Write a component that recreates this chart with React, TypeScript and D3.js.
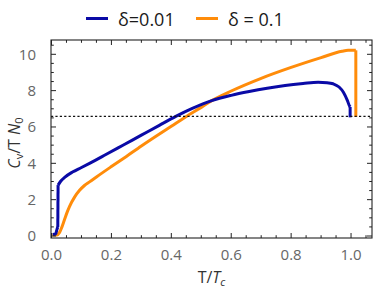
import React from "react";
import * as d3 from "d3";

const blueT = [0.004, 0.014, 0.018, 0.021, 0.022, 0.03, 0.045, 0.07, 0.1, 0.127, 0.18, 0.24, 0.3, 0.36, 0.415, 0.47, 0.535, 0.6, 0.66, 0.72, 0.78, 0.84, 0.89, 0.92, 0.94, 0.96, 0.975, 0.988, 0.995, 0.997, 0.997];
const blueY = [0.08, 0.12, 0.35, 0.5, 2.8, 3.0, 3.24, 3.52, 3.77, 4.0, 4.47, 5.01, 5.55, 6.09, 6.58, 7.02, 7.45, 7.74, 7.95, 8.13, 8.28, 8.39, 8.46, 8.44, 8.38, 8.2, 7.9, 7.45, 7.15, 7.1, 6.53];

const orangeT = [0.003, 0.018, 0.027, 0.035, 0.043, 0.052, 0.06, 0.077, 0.093, 0.11, 0.127, 0.15, 0.2, 0.25, 0.3, 0.35, 0.4, 0.45, 0.5, 0.535, 0.6, 0.7, 0.8, 0.9, 0.97, 0.99, 1.016, 1.016];
const orangeY = [0.05, 0.06, 0.2, 0.5, 0.88, 1.3, 1.62, 2.14, 2.5, 2.78, 2.98, 3.25, 3.82, 4.38, 4.95, 5.5, 6.04, 6.58, 7.08, 7.45, 7.98, 8.68, 9.28, 9.82, 10.17, 10.22, 10.22, 6.55];

const refLine = 6.58;
const xTicks = [0, 0.2, 0.4, 0.6, 0.8, 1.0];
const yTicks = [0, 2, 4, 6, 8, 10];
const seriesNames = ["δ=0.01", "δ = 0.1"];
const colors = ["#0a0aa6", "#ff8c0a"];

const W = 374, H = 291;
const left = 51, right = 372, top = 40, bottom = 238;

export default function App() {
  const x = d3.scaleLinear().domain([0, 1.07]).range([left + 0.5, right]);
  const y = d3.scaleLinear().domain([0, 10]).range([236, 54.3]);
  const line = d3
    .line<[number, number]>()
    .x((d) => x(d[0]))
    .y((d) => y(d[1]))
    .curve(d3.curveMonotoneX);
  const lineLin = d3
    .line<[number, number]>()
    .x((d) => x(d[0]))
    .y((d) => y(d[1]));
  const bluePts: [number, number][] = blueT.map((t, i) => [t, blueY[i]]);
  const orPts: [number, number][] = orangeT.map((t, i) => [t, orangeY[i]]);

  const xMinor = d3.range(0, 1.0701, 0.05);
  const yMinor = d3.range(0, 10.78, 0.5);
  const font = "'Open Sans', 'Noto Sans', sans-serif";

  const blueA = bluePts.slice(0, 4);
  const blueB = bluePts.slice(4, bluePts.length - 1);
  const blueEnd = bluePts.slice(bluePts.length - 2);
  const blueJump = bluePts.slice(3, 5);
  const orA = orPts.slice(0, orPts.length - 1);
  const orEnd = orPts.slice(orPts.length - 2);

  return (
    <svg width={W} height={H} style={{ position: "absolute", left: 0, top: 0 }} fontFamily={font}>
      <rect x={0} y={0} width={W} height={H} fill="#fff" />
      {/* legend */}
      <line x1={86} x2={108} y1={18.5} y2={18.5} stroke={colors[0]} strokeWidth={3} />
      <text x={118} y={26} fontSize={18} fill="#1a1a1a">{seriesNames[0]}</text>
      <line x1={196} x2={218} y1={18.5} y2={18.5} stroke={colors[1]} strokeWidth={3} />
      <text x={228} y={26} fontSize={18} fill="#1a1a1a">{seriesNames[1]}</text>

      {/* curves */}
      <g fill="none" strokeWidth={3} strokeLinejoin="round">
        <path d={line(orA) || ""} stroke={colors[1]} />
        <path d={lineLin(orEnd) || ""} stroke={colors[1]} />
        <path d={line(blueA) || ""} stroke={colors[0]} />
        <path d={lineLin(blueJump) || ""} stroke={colors[0]} />
        <path d={line(blueB) || ""} stroke={colors[0]} />
        <path d={lineLin(blueEnd) || ""} stroke={colors[0]} />
      </g>

      {/* reference dotted line */}
      <line x1={left} x2={right} y1={y(refLine)} y2={y(refLine)} stroke="#111" strokeWidth={1.2} strokeDasharray="2.2,2.2" />

      {/* frame */}
      <rect x={left} y={top} width={right - left} height={bottom - top} fill="none" stroke="#222" strokeWidth={1.1} />

      {/* ticks */}
      <g stroke="#222" strokeWidth={1}>
        {xMinor.map((v, i) => {
          const major = xTicks.some((t) => Math.abs(t - v) < 1e-6);
          const len = major ? 5 : 2.8;
          return (
            <g key={"xm" + i}>
              <line x1={x(v)} x2={x(v)} y1={bottom} y2={bottom - len} />
              <line x1={x(v)} x2={x(v)} y1={top} y2={top + len} />
            </g>
          );
        })}
        {yMinor.map((v, i) => {
          const major = yTicks.some((t) => Math.abs(t - v) < 1e-6);
          const len = major ? 5 : 2.8;
          return (
            <g key={"ym" + i}>
              <line x1={left} x2={left + len} y1={y(v)} y2={y(v)} />
              <line x1={right} x2={right - len} y1={y(v)} y2={y(v)} />
            </g>
          );
        })}
      </g>

      {/* tick labels */}
      <g fill="#666" fontSize={15}>
        {xTicks.map((t) => (
          <text key={"xt" + t} x={x(t)} y={259.5} textAnchor="middle">
            {d3.format(".1f")(t)}
          </text>
        ))}
        {yTicks.map((t) => (
          <text key={"yt" + t} x={36} y={y(t) + 5.4} textAnchor="end">
            {t}
          </text>
        ))}
      </g>

      {/* axis labels */}
      <text x={211.5} y={283} textAnchor="middle" fontSize={16} fill="#333">
        T/<tspan fontStyle="italic">T</tspan>
        <tspan fontSize={11} dy={3} fontStyle="italic">c</tspan>
      </text>
      <text transform="translate(20,143) rotate(-90)" textAnchor="middle" fontSize={16} fill="#333">
        <tspan fontStyle="italic">C</tspan>
        <tspan fontSize={11} dy={3}>v</tspan>
        <tspan dy={-3}>/T </tspan>
        <tspan fontStyle="italic">N</tspan>
        <tspan fontSize={11} dy={3}>0</tspan>
      </text>
    </svg>
  );
}
